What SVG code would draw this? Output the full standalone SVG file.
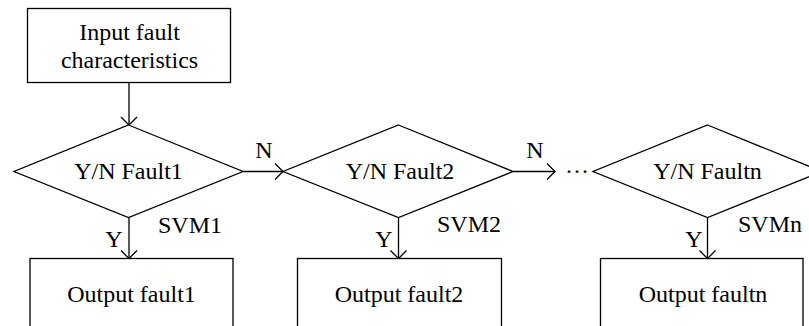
<svg xmlns="http://www.w3.org/2000/svg" width="809" height="326" viewBox="0 0 809 326">
  <style>
    .shape { fill: #ffffff; stroke: #000000; stroke-width: 1.3; }
    .conn { fill: none; stroke: #000000; stroke-width: 1.3; }
    text { font-family: "Liberation Serif", "Times New Roman", serif; font-size: 24px; fill: #000000; }
    .c { text-anchor: middle; }
  </style>
  <defs>
    <marker id="arrow" markerWidth="12" markerHeight="20" refX="10" refY="10" orient="auto" markerUnits="userSpaceOnUse">
      <path d="M2,2 L10,10 L2,18" fill="none" stroke="#000000" stroke-width="1.3"/>
    </marker>
  </defs>
  <rect width="809" height="326" fill="#ffffff"/>

  <g id="connectors">
    <line class="conn" x1="129" y1="82.5" x2="129" y2="125" marker-end="url(#arrow)"/>
    <line class="conn" x1="129" y1="217.5" x2="129" y2="258.5" marker-end="url(#arrow)"/>
    <line class="conn" x1="398.5" y1="217.5" x2="398.5" y2="258.5" marker-end="url(#arrow)"/>
    <line class="conn" x1="707.5" y1="217.5" x2="707.5" y2="258.5" marker-end="url(#arrow)"/>
    <line class="conn" x1="243" y1="171.5" x2="283" y2="171.5" marker-end="url(#arrow)"/>
    <line class="conn" x1="513" y1="171.5" x2="555" y2="171.5" marker-end="url(#arrow)"/>
    <text x="264" y="158" class="c">N</text>
    <text x="535" y="158" class="c">N</text>
    <text x="114" y="247" class="c">Y</text>
    <text x="384" y="247" class="c">Y</text>
    <text x="694" y="247" class="c">Y</text>
    <text x="158" y="233">SVM1</text>
    <text x="437" y="232">SVM2</text>
    <text x="738" y="232">SVMn</text>
    <text x="565" y="179">···</text>
  </g>

  <g id="input">
    <rect class="shape" x="27.5" y="8.5" width="203" height="74"/>
    <text x="129.5" y="40" class="c">Input fault</text>
    <text x="129.5" y="68" class="c">characteristics</text>
  </g>

  <g id="decision1">
    <polygon class="shape" points="128.5,125 243,171.5 128.5,217.5 14,171.5"/>
    <text x="128.5" y="178.5" class="c">Y/N Fault1</text>
  </g>
  <g id="decision2">
    <polygon class="shape" points="398.5,125 513,171.5 398.5,217.5 283,171.5"/>
    <text x="400" y="178.5" class="c">Y/N Fault2</text>
  </g>
  <g id="decisionn">
    <polygon class="shape" points="707.5,125 822,171.5 707.5,217.5 593,171.5"/>
    <text x="707.5" y="178.5" class="c">Y/N Faultn</text>
  </g>

  <g id="output1">
    <rect class="shape" x="30" y="258.5" width="203" height="90"/>
    <text x="131.5" y="301.5" class="c">Output fault1</text>
  </g>
  <g id="output2">
    <rect class="shape" x="297.5" y="258.5" width="204" height="90"/>
    <text x="399" y="301.5" class="c">Output fault2</text>
  </g>
  <g id="outputn">
    <rect class="shape" x="600.5" y="258.5" width="202.5" height="90"/>
    <text x="703" y="301.5" class="c">Output faultn</text>
  </g>
</svg>
